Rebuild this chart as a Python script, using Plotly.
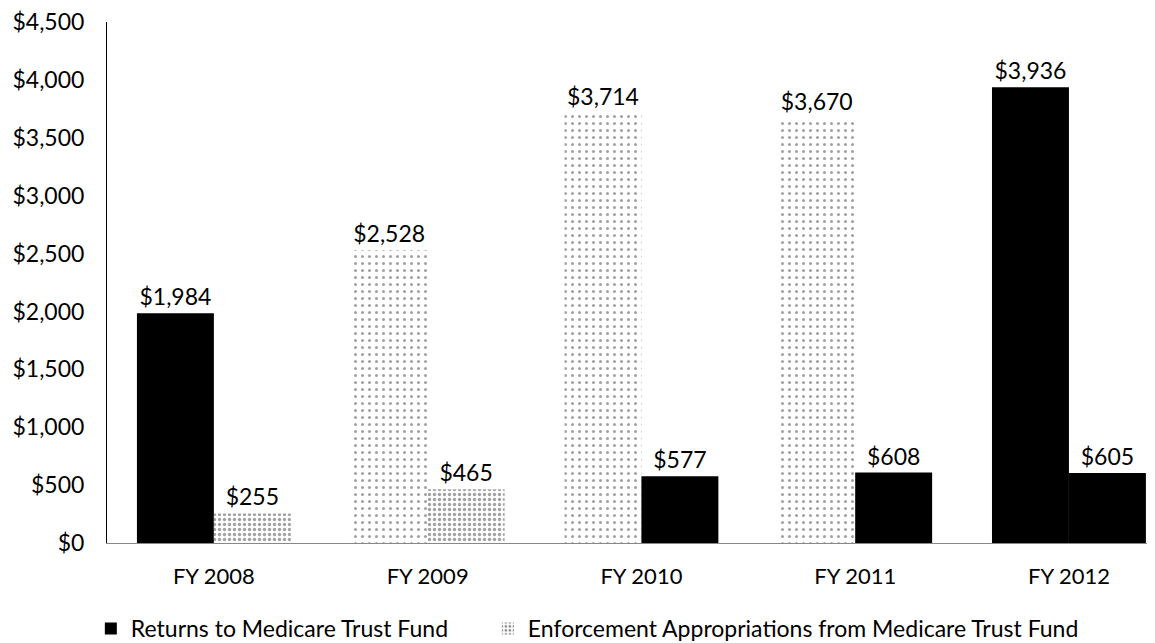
import plotly.graph_objects as go

categories = ["FY 2008", "FY 2009", "FY 2010", "FY 2011", "FY 2012"]
returns = [1984, 2528, 3714, 3670, 3936]
enforcement = [255, 465, 577, 608, 605]
y_ticks = [0, 500, 1000, 1500, 2000, 2500, 3000, 3500, 4000, 4500]

# per-bar look of the scanned reference: solid black or speckled
ret_colors = ["black", "white", "white", "white", "black"]
ret_shapes = ["", ".", ".", ".", ""]
enf_colors = ["white", "white", "black", "black", "black"]
enf_shapes = [".", ".", "", "", ""]

FONT = "Lato, Open Sans, sans-serif"

def fmt(v):
    return "${:,}".format(v)

fig = go.Figure()
fig.add_trace(go.Bar(
    name="Returns to Medicare Trust Fund",
    x=categories, y=returns,
    text=[fmt(v) for v in returns], textposition="outside",
    textfont=dict(size=23, color="black", family=FONT),
    cliponaxis=False,
    legendwidth=352,
    marker=dict(color=ret_colors, line=dict(width=0),
                pattern=dict(shape=ret_shapes, fgcolor="black", size=7,
                             solidity=0.15, fillmode="overlay")),
))
fig.add_trace(go.Bar(
    name="Enforcement Appropriations from Medicare Trust Fund",
    x=categories, y=enforcement,
    text=[fmt(v) for v in enforcement], textposition="outside",
    textfont=dict(size=23, color="black", family=FONT),
    cliponaxis=False,
    marker=dict(color=enf_colors, line=dict(width=0),
                pattern=dict(shape=enf_shapes, fgcolor="black", size=5,
                             solidity=0.35, fillmode="overlay")),
))

fig.update_layout(
    width=1155, height=643,
    margin=dict(l=99, r=0, t=14, b=108),
    paper_bgcolor="white", plot_bgcolor="white",
    barmode="group", bargap=0.28, bargroupgap=0,
    font=dict(family=FONT, size=23, color="black"),
    showlegend=True,
    legend=dict(orientation="h", x=-0.0153, xanchor="left", y=-0.164, yanchor="middle",
                font=dict(size=23, family=FONT), itemwidth=30,
                traceorder="normal"),
    xaxis=dict(type="category", range=[-0.5, 4.44], showline=True, linecolor="#888888",
               linewidth=1, ticks="", showgrid=False, ticklabelstandoff=14,
               tickfont=dict(size=22, family=FONT)),
    yaxis=dict(range=[0, 4500], tickvals=y_ticks,
               ticktext=[fmt(v) for v in y_ticks], showgrid=False, zeroline=False,
               showline=True, linecolor="black", linewidth=1, ticks="",
               ticklabelstandoff=17, ticklabeloverflow="allow",
               tickfont=dict(size=23, family=FONT)),
)

fig.write_html("out.html")
